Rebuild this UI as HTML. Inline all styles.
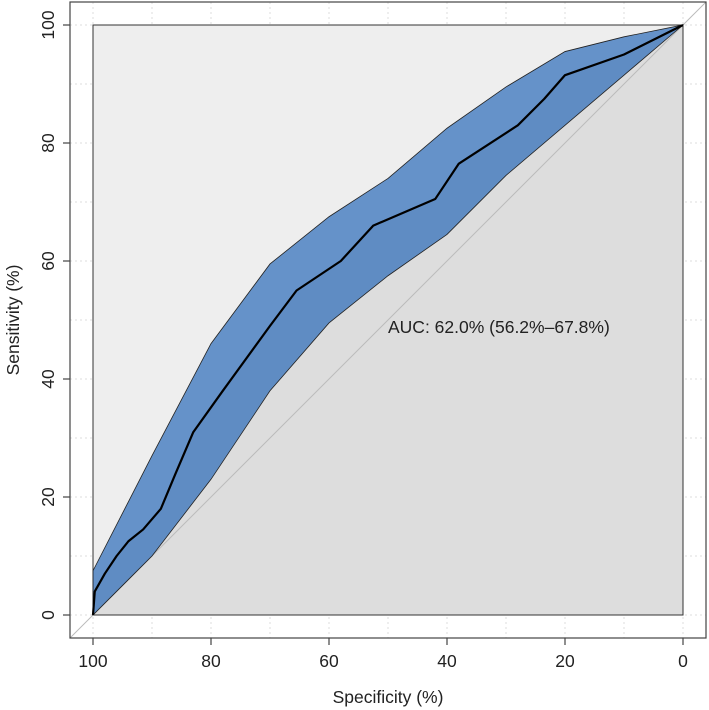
<!DOCTYPE html>
<html><head><meta charset="utf-8"><style>
body{margin:0;background:#fff}
svg{display:block;font-family:"Liberation Sans",sans-serif}
</style></head><body>
<svg id="c" width="709" height="710" xmlns="http://www.w3.org/2000/svg"></svg>
<script>
const rocSpec=[100,99.7,98,96,94,91.5,88.5,86,83,78,70,65.5,58,52.5,42,38,28,23.5,20,10,0];
const rocSens=[0,4,7,10,12.5,14.5,18,24,31,38,49,55,60,66,70.5,76.5,83,87.5,91.5,95,100];
const ciSpec=[100,90,80,70,60,50,40,30,20,10,0];
const ciUpper=[7.5,27,46,59.5,67.5,74,82.5,89.5,95.5,98,100];
const ciLower=[0,10,23,38,49.5,57.5,64.5,74.5,83,91.5,100];
const ticks=[0,20,40,60,80,100];
const grid=[0,10,20,30,40,50,60,70,80,90,100];
const NS="http://www.w3.org/2000/svg";
const svg=document.getElementById('c');
const X=v=>93+(100-v)*5.9, Y=v=>615-v*5.9;
function mk(t,a,p){const e=document.createElementNS(NS,t);for(const k in a)e.setAttribute(k,a[k]);(p||svg).appendChild(e);return e;}
const g=mk('g',{});


grid.forEach(v=>{
 mk('line',{x1:X(v),x2:X(v),y1:2,y2:638,stroke:'#ddd','stroke-dasharray':'2,3'},g);
 mk('line',{x1:70,x2:706,y1:Y(v),y2:Y(v),stroke:'#ddd','stroke-dasharray':'2,3'},g);
});
const bg=mk('rect',{x:X(100),y:Y(100),width:X(0)-X(100),height:Y(0)-Y(100),fill:'#eeeeee'});


const aucPts=rocSpec.map((s,i)=>X(s)+','+Y(rocSens[i]));
aucPts.push(X(0)+','+Y(0));
const area=mk('polygon',{points:aucPts.join(' '),fill:'#dddddd'});


mk('rect',{x:X(100),y:Y(100),width:X(0)-X(100),height:Y(0)-Y(100),fill:'none',stroke:'#333','stroke-width':1});
const diag=mk('line',{x1:70,y1:638,x2:706,y2:2,stroke:'#bbb','stroke-width':1});


let pts=ciSpec.map((s,i)=>X(s)+','+Y(ciUpper[i]));
for(let i=ciSpec.length-1;i>=0;i--)pts.push(X(ciSpec[i])+','+Y(ciLower[i]));
const band=mk('polygon',{points:pts.join(' '),fill:'#1c61b6','fill-opacity':0.65,stroke:'#222','stroke-width':0.8});


const roc=mk('polyline',{points:rocSpec.map((s,i)=>X(s)+','+Y(rocSens[i])).join(' '),fill:'none',stroke:'#000','stroke-width':2.2,'stroke-linejoin':'round'});


const ax=mk('rect',{x:70,y:2,width:636,height:636,fill:'none',stroke:'#444','stroke-width':1.2});


ticks.forEach(v=>{
 mk('line',{x1:X(v),x2:X(v),y1:638,y2:645,stroke:'#444','stroke-width':1.2});
 const tx=mk('text',{x:X(v),y:667,'text-anchor':'middle','font-size':17.5,fill:'#222'});tx.textContent=v;
 
 
 mk('line',{x1:63,x2:70,y1:Y(v),y2:Y(v),stroke:'#444','stroke-width':1.2});
 const ty=mk('text',{x:0,y:0,'text-anchor':'middle','font-size':17.5,fill:'#222',transform:`translate(54,${Y(v)}) rotate(-90)`});ty.textContent=v;
 
 
});
const xt=mk('text',{x:388,y:703,'text-anchor':'middle','font-size':17.5,fill:'#222'});xt.textContent='Specificity (%)';


const yt=mk('text',{x:0,y:0,'text-anchor':'middle','font-size':17.5,fill:'#222',transform:'translate(19,320) rotate(-90)'});yt.textContent='Sensitivity (%)';


const auc=mk('text',{x:388,y:333,'font-size':17.5,fill:'#222'});auc.textContent='AUC: 62.0% (56.2%–67.8%)';


</script>
</body></html>
